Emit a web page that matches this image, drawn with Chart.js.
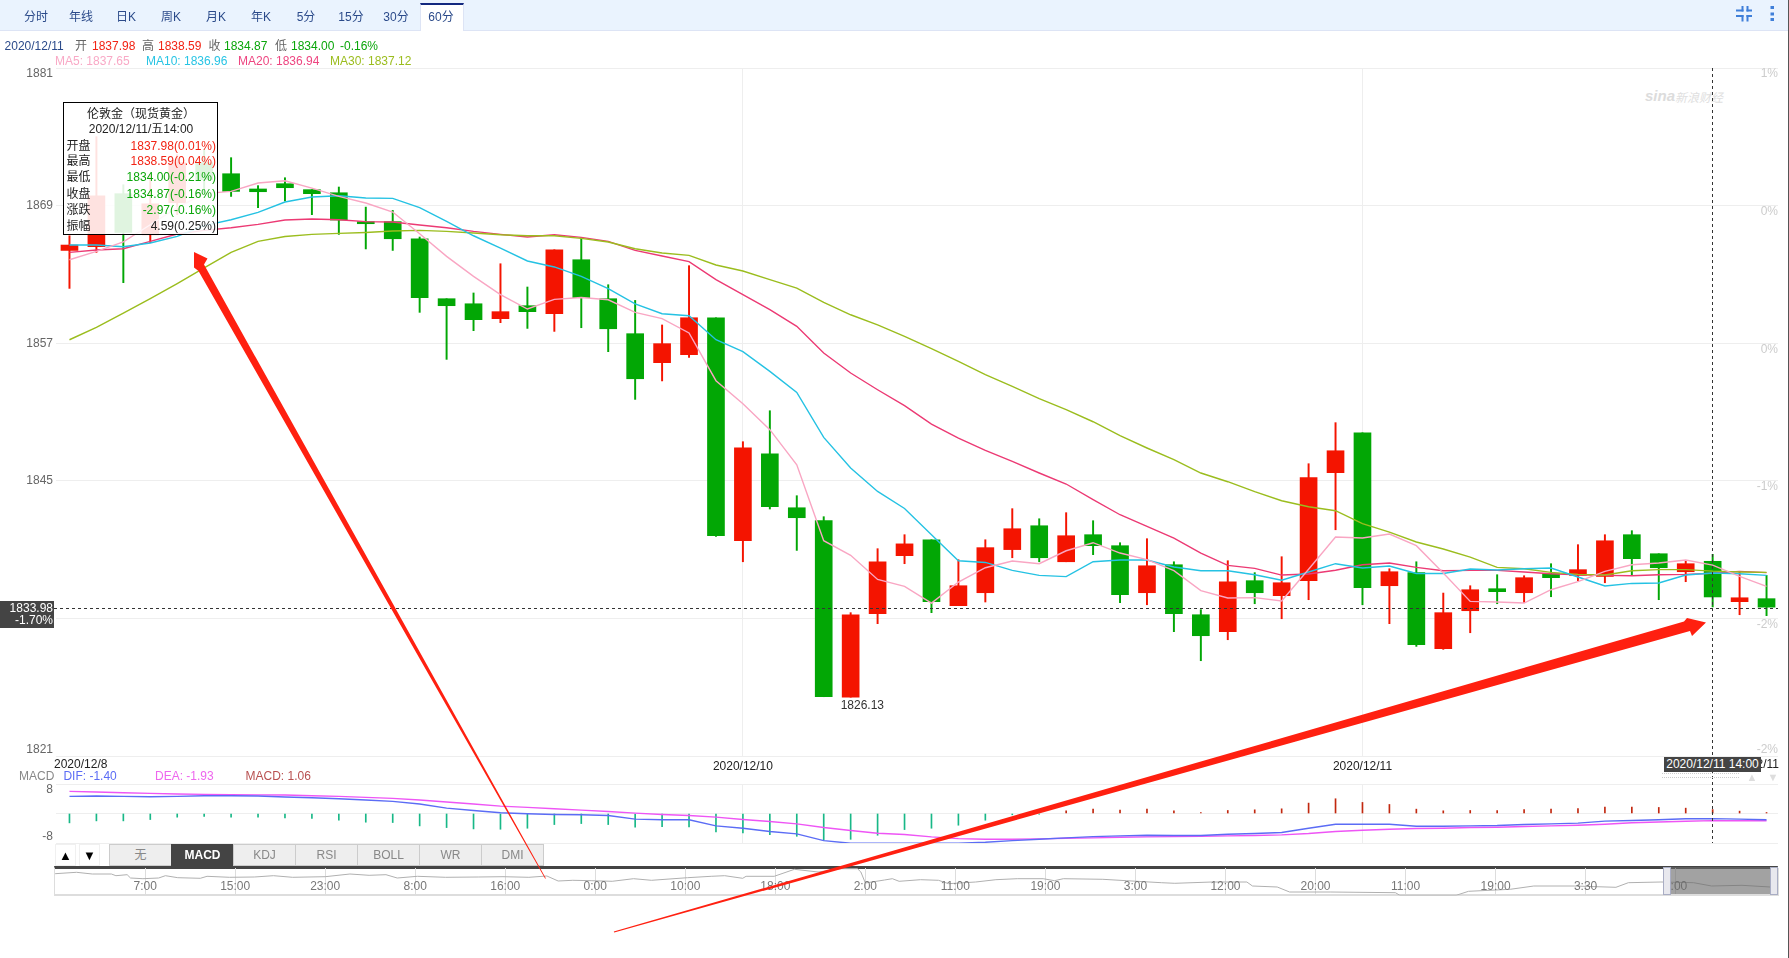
<!DOCTYPE html>
<html>
<head>
<meta charset="utf-8">
<title>伦敦金（现货黄金）60分</title>
<script src="https://cdn.jsdelivr.net/npm/chart.js@4"></script>
<style>
html,body{margin:0;padding:0;background:#fff;width:1789px;height:958px;overflow:hidden;font-family:"Liberation Sans","Noto Sans CJK SC",sans-serif;font-size:12px}
canvas{position:absolute;left:0}
.t{position:absolute;white-space:nowrap;line-height:1;transform:translateY(-50%)}
#bar{position:absolute;left:0;top:0;width:1789px;height:30px;background:#eaf3fe;border-bottom:1px solid #dde4f5}
#tab{position:absolute;left:420px;top:3px;width:44px;height:28px;background:#fff;border-top:2px solid #13287f;box-sizing:border-box;border-left:1px solid #dde4f5;border-right:1px solid #dde4f5}
#edge{position:absolute;left:1788px;top:0;width:1px;height:958px;background:#555}
#tip{position:absolute;left:63px;top:102px;width:153px;height:131px;border:1px solid #000;background:rgba(255,255,255,.88);z-index:2;box-sizing:content-box}
#curr{position:absolute;left:0;top:601px;width:54px;height:27px;background:#444;z-index:2}
.btn{position:absolute;top:844px;height:22px;background:#eee;border:1px solid #ccc;box-sizing:border-box;text-align:center;line-height:21px;color:#888;font-size:12px}
.sq{position:absolute;top:844px;width:21px;height:22px;border:1px solid #f0f0f0;box-sizing:border-box;text-align:center;line-height:21px;font-size:13px;color:#000}
#navbox{position:absolute;left:54px;top:866px;width:1724px;height:30px;box-sizing:border-box;border-top:3px solid #444;border-left:1px solid #ddd;border-right:1px solid #ddd;border-bottom:2px solid #ddd}
#sel{position:absolute;left:1671px;top:867px;width:100px;height:27px;background:rgba(105,105,105,.62);z-index:2}
.hd{position:absolute;top:867px;width:8px;height:28px;background:#e8e8ee;border:1px solid #a9adc4;box-sizing:border-box;z-index:2}
.cover{position:absolute;left:1778px;width:10px;background:#fff;z-index:1}
#xlab{position:absolute;left:1664px;top:757px;width:97px;height:15px;background:#444;color:#fff;text-align:center;line-height:15px;z-index:2}
#dots{position:absolute;left:1662px;top:773px;width:77px;height:5px;border-top:1px dotted #ccc;border-bottom:1px dotted #ccc;box-sizing:border-box}
svg{position:absolute;left:0;top:0;pointer-events:none}
</style>
</head>
<body>
<div id="bar"></div>
<div id="tab"></div>
<div id="edge"></div>
<div class="t" style="left:1645px;top:95px;color:#dcdcdc;font:italic bold 15px 'Liberation Sans'">sina</div>
<div class="t" style="left:1675px;top:96px;color:#e0e0e0;font:italic 12px 'Noto Sans CJK SC'">新浪财经</div>
<canvas id="main" width="1789" height="800" style="top:0"></canvas>
<canvas id="macd" width="1789" height="80" style="top:770px"></canvas>
<div class="cover" style="top:60px;height:697px"></div>
<div class="cover" style="top:784px;height:66px"></div>
<div id="navbox"></div>
<canvas id="nav" width="1789" height="36" style="top:862px"></canvas>
<div id="sel"></div>
<div class="hd" style="left:1663px"></div>
<div class="hd" style="left:1770px"></div>
<div id="tip"></div>
<div id="curr"></div>
<div id="dots"></div>
<div id="xlab">2020/12/11 14:00</div>
<svg width="1789" height="958" style="z-index:3">
  <polygon fill="#ff2010" points="194,252 207.5,258.5 204,264.5 545.8,878.3 545.2,878.7 198.5,271 194,267.5"/>
  <polygon fill="#ff2010" points="1706,622.5 1692,636 1690,631 614.2,932.6 613.8,931.6 1684,621.5 1687,618"/>
</svg>
<svg width="1789" height="32" style="z-index:3">
  <g fill="#3f7fd9">
    <rect x="1736" y="9.500" width="7.500" height="2"/><rect x="1741.500" y="6" width="2" height="5.500"/>
    <rect x="1746.500" y="9.500" width="5.500" height="2"/><rect x="1746.500" y="6" width="2" height="5.500"/>
    <rect x="1736" y="15" width="7.500" height="2"/><rect x="1741.500" y="15" width="2" height="6.500"/>
    <rect x="1746.500" y="15" width="5.500" height="2"/><rect x="1746.500" y="15" width="2" height="6.500"/>
    <rect x="1770.500" y="6" width="3.500" height="3"/><rect x="1770.500" y="12.500" width="3.500" height="3"/><rect x="1770.500" y="18" width="3.500" height="3"/>
  </g>
</svg>
<script>
const categories = ["12/8 23:00","12/9 00:00","01:00","02:00","03:00","04:00","05:00","07:00","08:00","09:00","10:00","11:00","12:00","13:00","14:00","15:00","16:00","17:00","18:00","19:00","20:00","21:00","22:00","23:00","12/10 00:00","01:00","02:00","03:00","04:00","05:00","07:00","08:00","09:00","10:00","11:00","12:00","13:00","14:00","15:00","16:00","17:00","18:00","19:00","20:00","21:00","22:00","23:00","12/11 00:00","01:00","02:00","03:00","04:00","05:00","06:00","07:00","08:00","09:00","10:00","11:00","12:00","13:00","14:00","15:00","16:00"];
const opens = [1865.09,1865.41,1870.04,1866.46,1869.25,1872.74,1871.78,1870.45,1870.91,1870.39,1870.12,1867.60,1867.60,1866.11,1860.88,1860.44,1859.14,1860.27,1859.57,1864.28,1860.88,1857.83,1855.30,1856.00,1859.22,1839.77,1847.36,1842.65,1841.52,1826.13,1833.41,1838.47,1839.86,1834.11,1835.24,1839.00,1841.08,1837.94,1840.30,1839.34,1835.24,1837.68,1833.32,1831.84,1836.29,1834.98,1836.29,1845.71,1849.19,1835.85,1836.99,1830.36,1833.67,1835.59,1835.24,1836.90,1836.75,1836.66,1840.30,1838.64,1837.07,1837.98,1834.46,1834.72];
const closes = [1865.56,1869.86,1866.66,1869.16,1872.74,1871.26,1870.24,1870.21,1870.56,1870.04,1867.74,1867.42,1866.11,1860.97,1860.27,1859.05,1859.75,1859.75,1865.15,1860.97,1858.26,1853.90,1856.96,1859.22,1840.21,1847.88,1842.74,1841.78,1826.17,1833.32,1837.94,1839.50,1834.46,1835.85,1839.17,1840.82,1838.29,1840.21,1839.34,1835.07,1837.59,1833.41,1831.49,1836.20,1835.24,1836.11,1845.27,1847.62,1835.68,1837.07,1830.71,1833.50,1835.50,1835.33,1836.55,1836.55,1837.25,1839.77,1838.21,1837.42,1837.77,1834.87,1834.80,1833.98];
const highs = [1866.37,1875.01,1870.82,1871.70,1873.44,1873.87,1873.18,1870.74,1871.43,1870.39,1870.62,1868.87,1868.58,1866.26,1860.88,1861.38,1863.93,1861.90,1865.15,1866.17,1862.10,1860.73,1858.59,1863.76,1859.22,1848.41,1851.11,1843.70,1841.87,1833.50,1839.08,1840.30,1839.86,1838.12,1839.86,1842.57,1841.69,1842.22,1841.52,1839.60,1839.95,1837.94,1833.76,1838.03,1836.99,1838.38,1846.49,1850.07,1849.19,1837.33,1837.94,1835.21,1835.85,1836.81,1836.72,1837.77,1839.43,1840.30,1840.65,1838.64,1838.03,1838.59,1837.07,1836.75];
const lows = [1861.78,1864.92,1862.28,1865.76,1868.21,1869.95,1869.80,1868.82,1869.40,1868.21,1866.49,1865.22,1865.09,1859.69,1855.59,1858.09,1858.79,1858.29,1858.03,1858.35,1856.26,1852.10,1853.71,1855.76,1840.15,1837.94,1842.54,1838.93,1826.17,1826.13,1832.54,1837.77,1833.50,1834.11,1834.43,1838.29,1837.94,1837.94,1838.56,1834.37,1834.19,1831.84,1829.31,1831.14,1834.28,1832.97,1834.63,1840.73,1834.19,1832.54,1830.56,1830.30,1831.75,1834.28,1834.37,1834.89,1836.29,1836.11,1836.75,1834.63,1836.20,1834.00,1833.32,1833.24];
const ma5 = [1864.28,1865.01,1865.83,1867.33,1868.82,1870.04,1870.24,1870.97,1871.17,1870.53,1869.80,1869.23,1868.44,1866.55,1864.57,1862.83,1861.23,1859.98,1860.82,1860.99,1860.79,1859.69,1859.14,1857.89,1853.73,1851.72,1849.46,1846.40,1839.78,1838.50,1836.40,1835.79,1834.34,1836.17,1837.42,1838.00,1837.77,1838.90,1839.60,1838.70,1838.12,1837.16,1835.42,1834.78,1834.81,1834.52,1837.29,1840.10,1840.01,1840.36,1839.34,1836.96,1834.48,1834.43,1834.34,1835.50,1836.20,1837.10,1837.68,1837.83,1838.09,1837.65,1836.66,1835.79];
const ma10 = [1865.56,1865.56,1865.41,1865.74,1866.31,1867.25,1867.77,1868.41,1869.31,1869.75,1869.86,1869.66,1869.63,1868.82,1867.62,1866.37,1865.30,1864.17,1863.65,1862.83,1861.75,1860.42,1859.57,1859.40,1857.30,1856.26,1854.54,1852.71,1848.79,1846.11,1844.07,1842.59,1840.30,1838.03,1837.88,1837.19,1836.75,1836.64,1837.94,1838.09,1838.09,1837.48,1837.16,1837.16,1836.81,1836.33,1837.05,1837.77,1837.40,1837.57,1836.92,1836.92,1837.31,1837.22,1837.33,1837.39,1836.61,1835.83,1836.05,1836.09,1836.78,1836.96,1836.90,1836.75];
const ma20 = [1864.92,1865.13,1865.24,1865.88,1866.52,1866.84,1867.07,1867.36,1867.74,1867.83,1867.77,1867.60,1867.57,1867.31,1867.07,1866.75,1866.49,1866.26,1866.46,1866.23,1865.88,1865.09,1864.60,1864.11,1862.54,1861.23,1859.92,1858.47,1856.15,1854.40,1852.94,1851.55,1849.95,1848.73,1847.65,1846.69,1845.68,1844.72,1843.35,1842.04,1841.02,1840.01,1838.70,1837.62,1837.36,1836.78,1836.87,1837.20,1837.68,1837.83,1837.45,1837.16,1837.19,1837.19,1837.05,1836.90,1836.81,1836.75,1836.72,1836.81,1836.84,1836.94,1837.10,1836.99];
const ma30 = [1857.30,1858.38,1859.63,1860.88,1862.19,1863.56,1864.92,1865.88,1866.31,1866.49,1866.58,1866.66,1866.78,1866.84,1866.75,1866.61,1866.46,1866.37,1866.37,1866.14,1865.83,1865.24,1864.87,1864.66,1863.82,1863.30,1862.54,1861.81,1860.56,1859.48,1858.59,1857.59,1856.52,1855.41,1854.25,1853.23,1852.16,1851.20,1850.15,1848.93,1847.86,1846.84,1845.68,1844.92,1844.05,1843.26,1842.74,1842.39,1841.26,1840.52,1839.66,1839.05,1838.35,1837.45,1837.33,1837.01,1836.84,1836.78,1837.16,1837.25,1837.25,1837.12,1837.05,1837.01];
const dif = [4.65,4.74,4.65,4.55,4.65,4.83,4.83,4.74,4.46,4.28,4.01,3.65,3.28,2.56,1.47,0.83,0.19,-0.08,-0.26,-0.35,-0.53,-1.53,-1.71,-1.71,-3.35,-3.99,-4.89,-5.53,-7.35,-8.07,-8.07,-8.07,-8.07,-8.07,-7.80,-7.35,-6.98,-6.62,-6.26,-6.07,-5.89,-5.98,-5.98,-5.62,-5.44,-5.17,-3.99,-2.90,-2.90,-2.90,-3.44,-3.44,-3.35,-3.26,-2.99,-2.80,-2.62,-2.08,-1.90,-1.71,-1.44,-1.40,-1.53,-1.71];
const dea = [6.01,5.83,5.64,5.46,5.28,5.19,5.10,5.05,5.01,4.83,4.65,4.37,4.10,3.65,3.10,2.56,2.01,1.65,1.28,0.92,0.56,0.10,-0.26,-0.53,-0.99,-1.62,-2.17,-2.80,-3.80,-4.62,-5.35,-5.71,-6.35,-6.80,-6.98,-6.98,-6.89,-6.71,-6.62,-6.44,-6.35,-6.26,-6.17,-6.07,-5.98,-5.80,-5.44,-4.89,-4.53,-4.26,-4.08,-3.99,-3.80,-3.71,-3.53,-3.35,-3.17,-2.90,-2.50,-2.30,-2.10,-1.93,-1.95,-1.98];
const macdBars = [-2.54,-2.00,-2.00,-1.64,-1.00,-0.82,-1.00,-1.00,-1.18,-1.36,-1.82,-2.36,-2.45,-3.36,-3.82,-4.18,-4.27,-4.00,-3.00,-2.73,-3.00,-3.72,-3.54,-3.63,-5.00,-5.27,-5.72,-6.18,-7.27,-7.00,-5.90,-4.36,-4.00,-3.18,-1.82,-0.36,-0.20,0.73,1.18,0.91,1.18,0.73,0.27,0.82,1.00,1.27,2.82,4.00,3.00,2.45,1.18,0.73,0.82,0.82,1.09,1.18,1.36,1.73,1.73,1.64,1.45,1.06,0.64,0.27];
const navHour = [0,1.9,3.3,5,5.4,6.4,6.7,7.8,9.2,9.8,10.9,12.9,13.5,15.5,17.7,19.4,21.1,24,26.2,27.9,29.4,30.4,32.2,34.7,37.6,39.8,42.1,43.7,44.7,46,47.7,49.5,51.4,53,56.2,58.3,59.5,61.1,61.4,63.9,65.7,67.8,69.9,71.3,71.6,72,73.7,74.4,75,76.9,78.5,79.4,81.8,83.6,85.5,87.8,88.8,89.6,93.1,95.2,98.3,99.5,102.8,105.9,106.4,108.6,109.7,113.3,119.1,119.5,124.5,125.6,129.3,131.4,135,138.7,139.8,142.7,145.6,147.2,149.9,152.4];
const navClose = [1882.9,1887.1,1882,1882,1876.9,1879.9,1870,1867.9,1870,1876.9,1870.9,1869.1,1875.1,1872.1,1873,1876.9,1872.1,1873.9,1882,1878.1,1879.9,1870,1875.1,1872.1,1873,1873.9,1872.1,1876,1861,1863.1,1861.9,1860.1,1867.9,1863.1,1870.9,1875.1,1876.9,1869.1,1875.1,1875.1,1896.1,1888,1897.9,1897.9,1888,1855,1864,1867.9,1860.1,1864.9,1863.1,1852.9,1858,1864.9,1867.9,1867.9,1861.9,1867.9,1866.1,1861.9,1855.9,1854.1,1858,1858,1846,1843,1828,1828,1825.9,1818.1,1818.1,1830.1,1836.1,1846,1846,1842.1,1855.9,1858,1855.9,1846,1848.1,1843];
const navLabels = ["7:00","15:00","23:00","8:00","16:00","0:00","10:00","18:00","2:00","11:00","19:00","3:00","12:00","20:00","11:00","19:00","3:30","2:00"];
const priceTicks = ["1821","1833","1845","1857","1869","1881"];
const pctLabels = ["-2%","-2%","-1%","0%","0%","1%"];
const dateIndexes = [0,25,48,63];
const dateLabels = ["2020/12/8","2020/12/10","2020/12/11","2020/12/11"];
const lastPrice = 1833.98;
const crossIndex = 61;
const lowIndex = 29;
const tabs = ["分时","年线","日K","周K","月K","年K","5分","15分","30分","60分"];
const indicators = ["无","MACD","KDJ","RSI","BOLL","WR","DMI"];

const RED="#f41400", GREEN="#02a705";
const FONT='"Liberation Sans","Noto Sans CJK SC",sans-serif';
function txt(x,y,s,color,extra){
  const d=document.createElement('div');d.className='t';d.textContent=s;
  d.style.left=x+'px';d.style.top=y+'px';d.style.color=color;
  if(extra)Object.assign(d.style,extra);
  document.body.appendChild(d);return d;
}
tabs.forEach((s,i)=>txt(36+i*45,16.5,s,'#2b4a8a',{transform:'translate(-50%,-50%)',zIndex:2}));
[[4.6,'2020/12/11','#2b4a8a'],[75,'开','#666'],[92,'1837.98','#f22314'],[142,'高','#666'],[158,'1838.59','#f22314'],[208.6,'收','#666'],[224,'1834.87','#0aa60a'],[275,'低','#666'],[291,'1834.00','#0aa60a'],[340,'-0.16%','#0aa60a'],
 [55,'MA5: 1837.65','#f9a9c6',61],[146,'MA10: 1836.96','#28c4e4',61],[238,'MA20: 1836.94','#ee4580',61],[330,'MA30: 1837.12','#9bbd1e',61]
].forEach(a=>txt(a[0],a[3]||46,a[1],a[2]));
// tooltip
[['伦敦金（现货黄金）',114],['2020/12/11/五14:00',129]].forEach(a=>txt(141,a[1],a[0],'#222',{transform:'translate(-50%,-50%)',zIndex:3}));
[['开盘','1837.98(0.01%)','#f22314',145.7],['最高','1838.59(0.04%)','#f22314',161],['最低','1834.00(-0.21%)','#0aa60a',177],['收盘','1834.87(-0.16%)','#0aa60a',193.7],['涨跌','-2.97(-0.16%)','#0aa60a',209.7],['振幅','4.59(0.25%)','#222',226]
].forEach(a=>{txt(66.5,a[3],a[0],'#222',{zIndex:3});txt(216,a[3],a[1],a[2],{transform:'translate(-100%,-50%)',zIndex:3});});
txt(53,608,'1833.98','#fff',{transform:'translate(-100%,-50%)',zIndex:3});
txt(53,620,'-1.70%','#fff',{transform:'translate(-100%,-50%)',zIndex:3});
txt(19,775.7,'MACD','#888');txt(63.4,775.7,'DIF: -1.40','#5b6cf5');txt(155,775.7,'DEA: -1.93','#ee66ee');txt(245.5,775.7,'MACD: 1.06','#b85050');
indicators.forEach((s,i)=>{const d=document.createElement('div');d.className='btn';d.textContent=s;d.style.left=(109+i*62)+'px';d.style.width='63px';
  if(s==='MACD'){d.style.background='#444';d.style.color='#fff';d.style.fontWeight='bold';d.style.borderColor='#444';}document.body.appendChild(d);});
[['▲',55],['▼',79]].forEach(a=>{const d=document.createElement('div');d.className='sq';d.textContent=a[0];d.style.left=a[1]+'px';document.body.appendChild(d);});
txt(1752,777,'▲','#ddd',{transform:'translate(-50%,-50%)',fontSize:'11px'});
txt(1773,777,'▼','#ddd',{transform:'translate(-50%,-50%)',fontSize:'11px'});

const base={responsive:false,animation:false,devicePixelRatio:1,events:[],
  plugins:{legend:{display:false},tooltip:{enabled:false}}};
const gridColor='#eeeeee';
const xGrid=ctx=>(ctx.index===25||ctx.index===48)?gridColor:'transparent';
const isDate=i=>dateIndexes.indexOf(i);

const mainLabels={id:'mainLabels',afterDatasetsDraw(c){
  const g=c.ctx,x=c.scales.x,y=c.scales.y,a=c.chartArea;
  g.save();
  g.strokeStyle='#333';g.lineWidth=1;g.setLineDash([3,3]);
  const py=Math.round(y.getPixelForValue(lastPrice))+1.5;
  g.beginPath();g.moveTo(54,py);g.lineTo(1778,py);g.stroke();
  const cx=Math.round(x.getPixelForValue(crossIndex))-.5;
  g.beginPath();g.moveTo(cx,a.top);g.lineTo(cx,800);g.stroke();
  g.setLineDash([]);
  g.font='12px '+FONT;g.textBaseline='middle';
  g.fillStyle='#666';g.textAlign='right';
  g.fillText(priceTicks[5],53,y.getPixelForValue(1881)+6);
  g.fillText(priceTicks[0],53,y.getPixelForValue(1821)-6);
  g.fillStyle='#cccccc';
  g.fillText(pctLabels[0],1778,y.getPixelForValue(1821)-6);
  g.fillStyle='#222';
  g.textAlign='left';g.fillText(dateLabels[0],54,765);
  g.textAlign='right';g.fillText(dateLabels[3],1779,765);
  g.fillStyle='#333';g.textAlign='left';
  g.fillText(lows[lowIndex].toFixed(2),x.getPixelForValue(lowIndex)-10,y.getPixelForValue(lows[lowIndex])+9);
  g.restore();
}};
new Chart(document.getElementById('main'),{
  data:{labels:categories,datasets:[
    {type:'line',label:'MA5',data:ma5,borderColor:'#f9a6c3',borderWidth:1.4,pointRadius:0,tension:0,order:1,yAxisID:'y'},
    {type:'line',label:'MA10',data:ma10,borderColor:'#25c2e3',borderWidth:1.4,pointRadius:0,tension:0,order:1,yAxisID:'y'},
    {type:'line',label:'MA30',data:ma30,borderColor:'#9bbd1e',borderWidth:1.4,pointRadius:0,tension:0,order:1,yAxisID:'y'},
    {type:'line',label:'MA20',data:ma20,borderColor:'#ec3a74',borderWidth:1.4,pointRadius:0,tension:0,order:1,yAxisID:'y'},
    {type:'bar',label:'K',data:opens.map((o,i)=>[o,closes[i]]),barThickness:17,grouped:false,order:2,yAxisID:'y',
      backgroundColor:opens.map((o,i)=>closes[i]>=o?RED:GREEN)},
    {type:'bar',label:'HL',data:lows.map((l,i)=>[l,highs[i]]),barThickness:1.3,grouped:false,order:3,yAxisID:'y',
      backgroundColor:opens.map((o,i)=>closes[i]>=o?RED:GREEN)}
  ]},
  options:{...base,
    layout:{padding:{top:68,right:9,left:0,bottom:0}},
    scales:{
      x:{type:'category',offset:true,border:{display:false},
        grid:{offset:false,color:xGrid,drawTicks:false},
        afterFit(s){s.height=44},
        ticks:{autoSkip:false,maxRotation:0,padding:3,color:'#222',font:{size:12,family:FONT},
          callback(v,i){const k=isDate(i);return (i===25||i===48)?dateLabels[k]:'';}}},
      y:{type:'linear',position:'left',min:1821,max:1881,border:{display:false},
        grid:{color:gridColor,drawTicks:false},
        afterFit(s){s.width=56},
        ticks:{stepSize:12,padding:3,font:{size:12,family:FONT},
          color:c=>(c.index===0||c.index===5)?'transparent':'#666',
          callback:(v,i)=>priceTicks[i]}},
      yPct:{type:'linear',position:'right',min:1821,max:1881,border:{display:false},
        grid:{display:false,drawTicks:false},
        afterFit(s){s.width=0},
        ticks:{stepSize:12,mirror:true,padding:-2,labelOffset:6,font:{size:12,family:FONT},
          color:c=>c.index===0?'transparent':'#cccccc',
          callback:(v,i)=>pctLabels[i]}}
    }},
  plugins:[mainLabels]
});

const macdLabels={id:'macdLabels',afterDatasetsDraw(c){
  const g=c.ctx,x=c.scales.x,y=c.scales.y,a=c.chartArea;
  g.save();g.strokeStyle='#333';g.lineWidth=1;g.setLineDash([3,3]);
  const cx=Math.round(x.getPixelForValue(crossIndex))-.5;
  g.beginPath();g.moveTo(cx,0);g.lineTo(cx,a.bottom);g.stroke();g.setLineDash([]);
  g.fillStyle='#666';g.font='12px '+FONT;g.textAlign='right';g.textBaseline='middle';
  g.fillText('8',53,y.getPixelForValue(8)+6);
  g.fillText('-8',53,y.getPixelForValue(-8)-6);
  g.restore();
}};
new Chart(document.getElementById('macd'),{
  data:{labels:categories,datasets:[
    {type:'line',label:'DIF',data:dif,borderColor:'#5b6cf5',borderWidth:1.4,pointRadius:0,tension:0,order:1},
    {type:'line',label:'DEA',data:dea,borderColor:'#ee55f5',borderWidth:1.4,pointRadius:0,tension:0,order:1},
    {type:'bar',label:'MACD',data:macdBars,barThickness:1,order:2,
      backgroundColor:macdBars.map(v=>v>=0?'#c2280f':'#18b887')}
  ]},
  options:{...base,
    layout:{padding:{top:14,right:9,left:0,bottom:0}},
    scales:{
      x:{type:'category',offset:true,border:{display:false},
        grid:{offset:false,color:xGrid,drawTicks:false},
        afterFit(s){s.height=7},ticks:{display:false}},
      y:{type:'linear',position:'left',min:-8,max:8,border:{display:false},
        grid:{color:gridColor,drawTicks:false},
        afterFit(s){s.width=56},
        ticks:{display:false,stepSize:8}}
    }},
  plugins:[macdLabels]
});

const navTicks={id:'navTicks',afterDatasetsDraw(c){
  const g=c.ctx,x=c.scales.x;
  g.save();g.fillStyle='#777';g.font='12px '+FONT;g.textAlign='center';g.textBaseline='middle';
  navLabels.forEach((s,k)=>g.fillText(s,x.getPixelForValue(8*(k+1)),25));
  g.restore();
}};
new Chart(document.getElementById('nav'),{
  type:'line',
  data:{datasets:[{label:'close',data:navHour.map((h,i)=>({x:h,y:navClose[i]})),borderColor:'#b0b0b0',borderWidth:1,pointRadius:0,tension:0}]},
  options:{...base,
    layout:{padding:{top:6,right:11,left:0,bottom:2.5}},
    scales:{
      x:{type:'linear',min:-0.1,max:153.1,border:{display:false},
        grid:{color:'#dddddd',drawTicks:false},
        afterFit(s){s.height=0},
        ticks:{display:false,stepSize:8}},
      y:{type:'linear',min:1817.5,max:1900,display:false,afterFit(s){s.width=54}}
    }},
  plugins:[navTicks]
});
</script>
</body>
</html>
